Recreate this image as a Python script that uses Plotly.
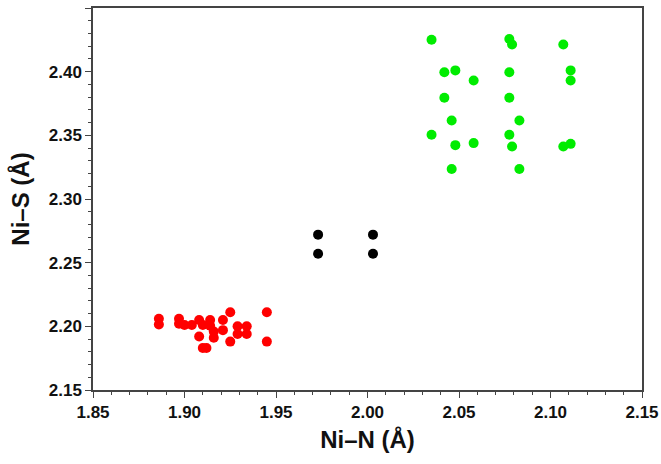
import plotly.graph_objects as go

# Data
red_x = [1.886, 1.886, 1.897, 1.897, 1.900, 1.904, 1.908, 1.910, 1.908, 1.910, 1.912,
         1.914, 1.914, 1.916, 1.916, 1.921, 1.921, 1.925, 1.925, 1.929, 1.929, 1.934,
         1.934, 1.945, 1.945]
red_y = [2.206, 2.2015, 2.206, 2.202, 2.201, 2.201, 2.205, 2.201, 2.192, 2.183, 2.183,
         2.205, 2.2005, 2.196, 2.191, 2.205, 2.197, 2.211, 2.188, 2.200, 2.194, 2.200,
         2.194, 2.211, 2.188]

black_x = [1.973, 1.973, 2.003, 2.003]
black_y = [2.272, 2.257, 2.272, 2.257]

green_x = [2.035, 2.042, 2.048, 2.058, 2.042, 2.046, 2.035, 2.048, 2.058, 2.046,
           2.0775, 2.079, 2.0775, 2.0775, 2.083, 2.0775, 2.079, 2.083,
           2.107, 2.111, 2.111, 2.107, 2.111]
green_y = [2.425, 2.3995, 2.401, 2.393, 2.3795, 2.3617, 2.3504, 2.3423, 2.3439, 2.3236,
           2.4257, 2.4213, 2.3995, 2.3795, 2.3617, 2.3504, 2.3412, 2.3236,
           2.4213, 2.401, 2.393, 2.3412, 2.3433]

x_range = [1.85, 2.15]
y_range = [2.15, 2.45]
x_title = "Ni–N (Å)"
y_title = "Ni–S (Å)"

fig = go.Figure()
marker_size = 10
for xs, ys, col in [(red_x, red_y, "#ff0000"), (black_x, black_y, "#000000"),
                    (green_x, green_y, "#00ec00")]:
    fig.add_trace(go.Scatter(x=xs, y=ys, mode="markers",
                             marker=dict(color=col, size=marker_size, line=dict(width=0)),
                             showlegend=False))

font_family = "Liberation Sans, Arial, sans-serif"
axis_common = dict(
    showgrid=False, zeroline=False, showline=True, linecolor="#444444", linewidth=1.5,
    mirror=True, ticks="outside", ticklen=6, tickwidth=1.2, tickcolor="#444444",
    tickfont=dict(family=font_family, size=17, color="#111111", weight="bold"),
    tickformat=".2f", dtick=0.05,
    minor=dict(dtick=0.01, ticks="outside", ticklen=3.5, tickwidth=1, tickcolor="#444444"),
)

fig.update_xaxes(range=x_range, tick0=1.85,
                 title=dict(text=x_title, standoff=10,
                            font=dict(family=font_family, size=24, color="#111111", weight="bold")),
                 **axis_common)
fig.update_yaxes(range=y_range, tick0=2.15,
                 title=dict(text=y_title, standoff=12,
                            font=dict(family=font_family, size=24, color="#111111", weight="bold")),
                 **axis_common)

fig.update_layout(
    width=661, height=464,
    margin=dict(l=93, r=19, t=8, b=74, autoexpand=False),
    plot_bgcolor="white", paper_bgcolor="white",
)

fig.write_html("out.html")
